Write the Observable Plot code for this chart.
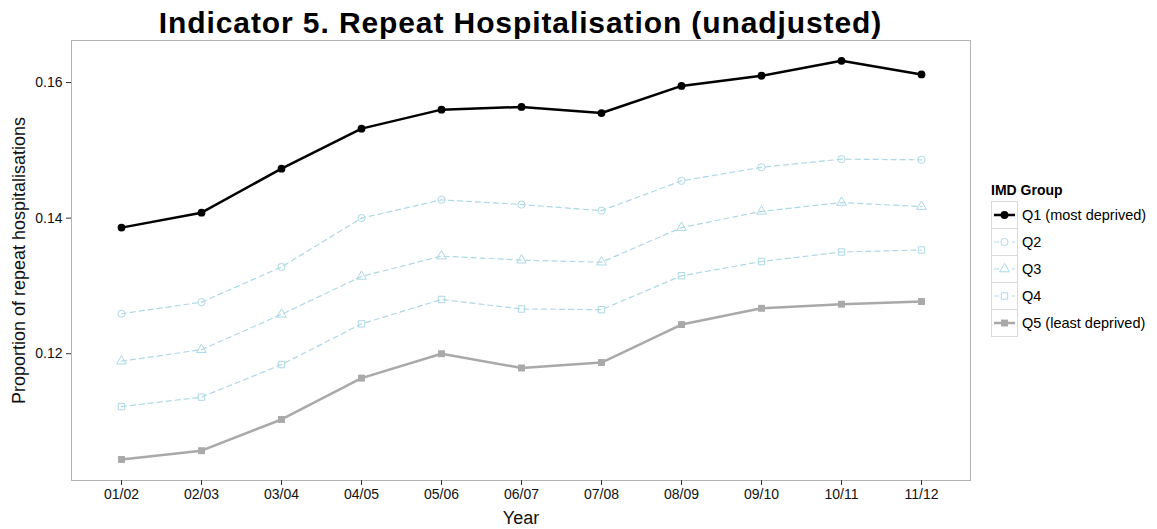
<!DOCTYPE html>
<html><head><meta charset="utf-8">
<script src="https://cdn.jsdelivr.net/npm/d3@7"></script>
<script src="https://cdn.jsdelivr.net/npm/@observablehq/plot@0.6"></script>
<style>
body{margin:0;background:#fff;font-family:"Liberation Sans",Arial,Helvetica,sans-serif;}
#wrap{position:relative;width:1157px;height:529px;overflow:hidden;}
#chart{position:absolute;left:0;top:0;}
#title{position:absolute;left:71px;width:899px;top:8px;text-align:center;font-size:30px;line-height:30px;letter-spacing:0.9px;font-weight:bold;color:#000;white-space:nowrap;}
#legtitle{position:absolute;left:991px;top:183px;font-size:14px;line-height:14px;font-weight:bold;color:#000;}
#legend{position:absolute;left:991px;top:201px;}
</style></head>
<body>
<div id="wrap">
  <div id="chart"></div>
  <div id="title">Indicator 5. Repeat Hospitalisation (unadjusted)</div>
  <div id="legtitle">IMD Group</div>
  <div id="legend"></div>
</div>
<script>
// ---- data ----
const years = ["01/02","02/03","03/04","04/05","05/06","06/07","07/08","08/09","09/10","10/11","11/12"];
const groups = ["Q1 (most deprived)","Q2","Q3","Q4","Q5 (least deprived)"];
const q1 = [0.1386,0.1408,0.1473,0.1532,0.1560,0.1564,0.1555,0.1595,0.1610,0.1632,0.1612];
const q2 = [0.1259,0.1276,0.1328,0.1400,0.1427,0.1420,0.1411,0.1455,0.1475,0.1487,0.1486];
const q3 = [0.1189,0.1206,0.1258,0.1314,0.1344,0.1338,0.1335,0.1386,0.1410,0.1423,0.1417];
const q4 = [0.1122,0.1136,0.1184,0.1244,0.1280,0.1266,0.1265,0.1315,0.1336,0.1350,0.1353];
const q5 = [0.1044,0.1057,0.1103,0.1164,0.1200,0.1179,0.1187,0.1243,0.1267,0.1273,0.1277];
const yTicks = [0.12,0.14,0.16];
const yDomain = [0.1013,0.1662];
const colors = ["#000000","#add8e6","#add8e6","#add8e6","#a9a9a9"];
const symbols = ["circle","circle","triangle","square","square"];
const filledGroups = ["Q1 (most deprived)","Q5 (least deprived)"];
const dashedGroups = ["Q2","Q3","Q4"];

const series = [q1,q2,q3,q4,q5];
const rows = groups.flatMap((g,i)=>years.map((yr,j)=>({group:g, year:yr, value:series[i][j]})));
const solidRows = rows.filter(d=>!dashedGroups.includes(d.group));
const dashRows = rows.filter(d=>dashedGroups.includes(d.group));
const filledRows = rows.filter(d=>filledGroups.includes(d.group));
const openRows = rows.filter(d=>!filledGroups.includes(d.group));

const plot = Plot.plot({
  width:1157, height:529,
  marginTop:40, marginBottom:49, marginLeft:71, marginRight:187,
  style:{fontFamily:'"Liberation Sans",Arial,Helvetica,sans-serif', background:"transparent", color:"#111"},
  x:{type:"point", domain:years, padding:0.6},
  y:{domain:yDomain},
  color:{domain:groups, range:colors},
  symbol:{domain:groups, range:symbols},
  marks:[
    Plot.frame({stroke:"#b3b3b3", strokeWidth:1}),
    Plot.axisX({tickSize:5, tickPadding:4, fontSize:14, stroke:"#333", label:"Year", labelAnchor:"center", labelArrow:"none", labelOffset:43}),
    Plot.axisY({ticks:yTicks, tickFormat:".2f", tickSize:5, tickPadding:4, fontSize:14, stroke:"#333", label:"Proportion of repeat hospitalisations", labelAnchor:"center", labelArrow:"none", labelOffset:59}),
    Plot.line(dashRows, {x:"year", y:"value", z:"group", stroke:"group", strokeWidth:1.2, strokeDasharray:"5,4"}),
    Plot.line(solidRows, {x:"year", y:"value", z:"group", stroke:"group", strokeWidth:2.5}),
    Plot.dot(openRows, {x:"year", y:"value", symbol:"group", stroke:"group", fill:"none", r:3.6, strokeWidth:1}),
    Plot.dot(filledRows, {x:"year", y:"value", symbol:"group", fill:"group", stroke:"none", r:3.9})
  ]
});
document.getElementById("chart").appendChild(plot);
plot.querySelectorAll('g[aria-label="x-axis label"], g[aria-label="y-axis label"]').forEach(g=>{
  g.setAttribute("font-size","18");
  g.querySelectorAll("text").forEach(t=>t.setAttribute("font-size","18"));
});

// ---- legend ----
const keyH = 27, keyW = 26;
const leg = d3.select("#legend").append("svg")
  .attr("width",166).attr("height",groups.length*keyH+2)
  .style("font-family",'"Liberation Sans",Arial,Helvetica,sans-serif');
const symMap = {circle:d3.symbolCircle, triangle:d3.symbolTriangle, square:d3.symbolSquare};
groups.forEach((g,i)=>{
  const y0 = i*keyH+0.5;
  const gg = leg.append("g");
  gg.append("rect").attr("x",0.5).attr("y",y0).attr("width",keyW).attr("height",keyH)
    .attr("fill","none").attr("stroke","#d9d9d9");
  const dashed = dashedGroups.includes(g), filled = filledGroups.includes(g);
  const cy = y0+keyH/2;
  gg.append("line").attr("x1",3).attr("x2",keyW-2).attr("y1",cy).attr("y2",cy)
    .attr("stroke",colors[i]).attr("stroke-width",dashed?1.2:2.5)
    .attr("stroke-dasharray",dashed?"5,4":null);
  const r = filled?3.9:3.6;
  gg.append("path").attr("d",d3.symbol(symMap[symbols[i]], Math.PI*r*r)())
    .attr("transform",`translate(${keyW/2+0.5},${cy})`)
    .attr("fill",filled?colors[i]:"white").attr("stroke",filled?"none":colors[i]);
  gg.append("text").attr("x",31).attr("y",cy).attr("dy","0.35em").attr("font-size",14.5).attr("fill","#000").text(g);
});
</script>
</body></html>
